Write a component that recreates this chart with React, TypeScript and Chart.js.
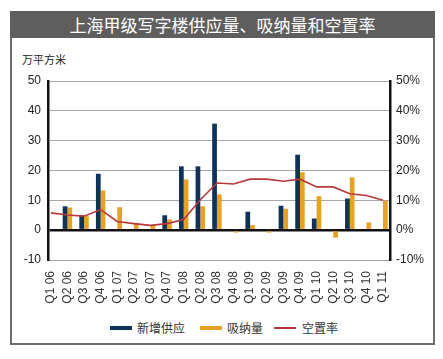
import React, { useEffect, useRef } from "react";
import { Chart, registerables } from "chart.js";

Chart.register(...registerables);

const categories = [
  "Q1 06", "Q2 06", "Q3 06", "Q4 06", "Q1 07", "Q2 07", "Q3 07", "Q4 07",
  "Q1 08", "Q2 08", "Q3 08", "Q4 08", "Q1 09", "Q2 09", "Q3 09", "Q4 09",
  "Q1 10", "Q2 10", "Q3 10", "Q4 10", "Q1 11",
];
// 新增供应 (万平方米)
const supply = [null, 8, 4.9, 18.9, null, null, null, 5, 21.4, 21.4, 35.7, null, 6.2, null, 8.2, 25.3, 3.9, null, 10.6, null, null];
// 吸纳量 (万平方米)
const absorption = [null, 7.6, 4.7, 13.3, 7.7, 2.4, 1.7, 3.6, 17, 8, 12, -0.8, 1.7, -0.8, 7.2, 19.4, 11.4, -2.5, 17.7, 2.6, 9.9];
// 空置率 (%)
const vacancy = [5.8, 5.1, 4.7, 6.9, 2.9, 2.2, 1.6, 2.2, 3.6, 10.2, 15.8, 15.5, 17.1, 17.1, 16.4, 17.1, 14.5, 14.5, 12.2, 11.6, 10.0];

const leftTicks = [-10, 0, 10, 20, 30, 40, 50];
const title = "上海甲级写字楼供应量、吸纳量和空置率";
const unitLabel = "万平方米";
const seriesNames = ["新增供应", "吸纳量", "空置率"];

const BLUE = "#0f3358";
const ORANGE = "#e6a225";
const RED = "#b8383a";
const FONT = "'Liberation Sans', Arial, sans-serif";
const CJK = "'Noto Sans CJK SC', sans-serif";

export default function App() {
  const ref = useRef<HTMLCanvasElement | null>(null);

  useEffect(() => {
    if (!ref.current) return;
    const toPts = (arr: (number | null)[]) => arr.map((v, i) => ({ x: i, y: v }));
    const chart = new Chart(ref.current, {
      type: "bar",
      data: {
        datasets: [
          {
            type: "bar",
            label: seriesNames[0],
            data: toPts(supply) as any,
            backgroundColor: BLUE,
            yAxisID: "y",
            categoryPercentage: 0.57,
            barPercentage: 1,
            order: 2,
          },
          {
            type: "bar",
            label: seriesNames[1],
            data: toPts(absorption) as any,
            backgroundColor: ORANGE,
            yAxisID: "y",
            categoryPercentage: 0.57,
            barPercentage: 1,
            order: 2,
          },
          {
            type: "line",
            label: seriesNames[2],
            data: toPts(vacancy) as any,
            borderColor: RED,
            borderWidth: 1.6,
            pointRadius: 0,
            tension: 0,
            yAxisID: "y1",
            order: 1,
          },
        ],
      },
      options: {
        animation: false,
        responsive: false,
        maintainAspectRatio: false,
        layout: { padding: { top: 41, left: 0, right: 0, bottom: 0 } },
        plugins: { legend: { display: false }, tooltip: { enabled: false } },
        scales: {
          x: {
            type: "linear",
            min: -0.17,
            max: 20.42,
            offset: false,
            grid: { display: false, drawTicks: false },
            border: { display: true, color: "#a0a0a0", width: 1 },
            ticks: {
              stepSize: 1,
              includeBounds: false,
              autoSkip: false,
              minRotation: 90,
              maxRotation: 90,
              padding: 11,
              color: "#333",
              font: { family: FONT, size: 12 },
              callback: (v: any) =>
                Number.isInteger(v) && categories[v] !== undefined ? categories[v] : "",
            },
            afterFit: (s: any) => {
              s.height = 50;
            },
          },
          y: {
            position: "left",
            min: leftTicks[0],
            max: leftTicks[leftTicks.length - 1],
            grid: {
              drawTicks: false,
              color: (c: any) => (c.tick && c.tick.value === 0 ? "#111" : "#a8a8a8"),
              lineWidth: (c: any) => (c.tick && c.tick.value === 0 ? 2.5 : 1),
            },
            border: { display: true, color: "#111", width: 2.5 },
            ticks: {
              stepSize: 10,
              padding: 7,
              color: "#222",
              font: { family: FONT, size: 12 },
            },
            afterFit: (s: any) => {
              s.width = 48;
            },
          },
          y1: {
            position: "right",
            min: -10,
            max: 50,
            grid: { display: false, drawTicks: false },
            border: { display: true, color: "#111", width: 2.5 },
            ticks: {
              stepSize: 10,
              padding: 6,
              color: "#222",
              font: { family: FONT, size: 12 },
              callback: (v: any) => v + "%",
            },
            afterFit: (s: any) => {
              s.width = 53;
            },
          },
        },
      },
    });
    return () => chart.destroy();
  }, []);

  const legendItem = (color: string, h: number, left: number, textLeft: number, text: string) => (
    <>
      <div
        style={{
          position: "absolute",
          left,
          top: 328 - h / 2,
          width: 22,
          height: h,
          background: color,
        }}
      />
      <div
        style={{
          position: "absolute",
          left: textLeft,
          top: 319,
          fontFamily: CJK,
          fontSize: 12,
          lineHeight: "18px",
          color: "#333",
          whiteSpace: "nowrap",
        }}
      >
        {text}
      </div>
    </>
  );

  return (
    <div
      style={{
        position: "absolute",
        left: 0,
        top: 0,
        width: 443,
        height: 359,
        background: "#fff",
        overflow: "hidden",
      }}
    >
      <div
        style={{
          position: "absolute",
          left: 10,
          top: 11,
          width: 421,
          height: 330,
          border: "2px solid #6e6e6e",
        }}
      />
      <div
        style={{
          position: "absolute",
          left: 10,
          top: 11,
          width: 425,
          height: 27,
          background: "#5e5e5e",
          color: "#fff",
          fontFamily: CJK,
          fontSize: 17,
          lineHeight: "27px",
          textAlign: "center",
        }}
      >
        {title}
      </div>
      <div
        style={{
          position: "absolute",
          left: 22,
          top: 51,
          fontFamily: CJK,
          fontSize: 11,
          lineHeight: "16px",
          color: "#222",
        }}
      >
        {unitLabel}
      </div>
      <canvas
        ref={ref}
        width={443}
        height={270}
        style={{ position: "absolute", left: 0, top: 40, width: 443, height: 270 }}
      />
      {legendItem(BLUE, 4, 110, 137, seriesNames[0])}
      {legendItem(ORANGE, 4, 200, 227, seriesNames[1])}
      {legendItem(RED, 2, 274, 302, seriesNames[2])}
    </div>
  );
}
